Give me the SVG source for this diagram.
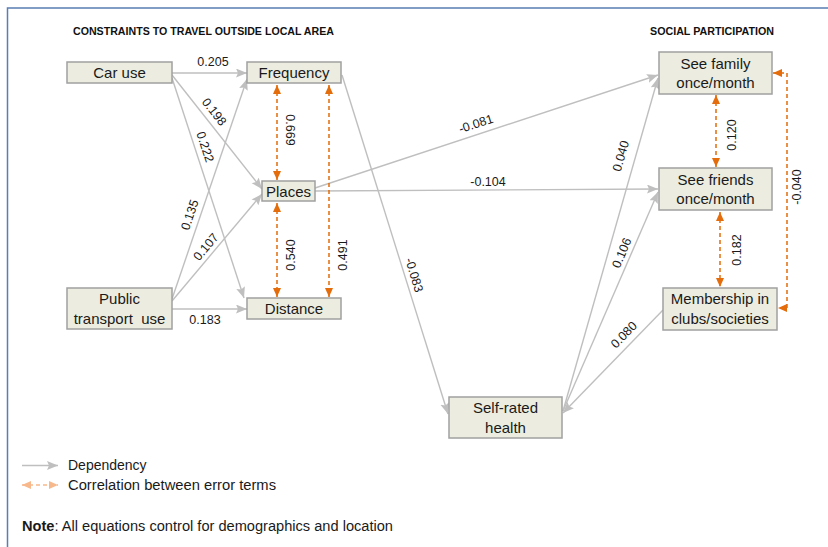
<svg xmlns="http://www.w3.org/2000/svg" width="828" height="547" viewBox="0 0 828 547">
<style>
  .box { fill: #ecede0; stroke: #a0a0a0; stroke-width: 1.5; }
  .nt { font-family: "Liberation Sans", Arial, sans-serif; font-size: 15px; fill: #1a1a1a; text-anchor: middle; }
  .lbl { font-family: "Liberation Sans", Arial, sans-serif; font-size: 12.5px; fill: #1a1a1a; text-anchor: middle; }
  .title { font-family: "Liberation Sans", Arial, sans-serif; font-size: 10.5px; font-weight: bold; fill: #111; }
  .dep { fill: none; stroke: #bfbfbf; stroke-width: 1.4; marker-end: url(#ga); }
  .cor { fill: none; stroke: #e46c0a; stroke-width: 1.5; stroke-dasharray: 4 3; marker-start: url(#oa); marker-end: url(#oa); }
  .leg { font-family: "Liberation Sans", Arial, sans-serif; font-size: 14px; fill: #1a1a1a; }
</style>
<defs>
  <marker id="ga" markerUnits="userSpaceOnUse" markerWidth="12" markerHeight="10" refX="11" refY="4.5" orient="auto">
    <path d="M0,0 L11,4.5 L0,9 L2,4.5 z" fill="#bfbfbf"/>
  </marker>
  <marker id="oa" markerUnits="userSpaceOnUse" markerWidth="10" markerHeight="9" refX="9" refY="4" orient="auto-start-reverse">
    <path d="M0,0 L9,4 L0,8 z" fill="#e46c0a"/>
  </marker>
  <marker id="la" markerUnits="userSpaceOnUse" markerWidth="10" markerHeight="9" refX="9" refY="4" orient="auto-start-reverse">
    <path d="M0,0 L9,4 L0,8 z" fill="#f7b98c"/>
  </marker>
</defs>
<rect x="0" y="0" width="828" height="547" fill="#ffffff"/>
<rect x="7.5" y="8" width="840" height="560" fill="none" stroke="#5a7db3" stroke-width="1.5"/>

<text class="title" x="73" y="35" textLength="261" lengthAdjust="spacingAndGlyphs">CONSTRAINTS TO TRAVEL OUTSIDE LOCAL AREA</text>
<text class="title" x="650" y="35" textLength="124" lengthAdjust="spacingAndGlyphs">SOCIAL PARTICIPATION</text>

<g id="connectors">
  <line class="dep" x1="172" y1="73" x2="247" y2="73"/>
  <line class="dep" x1="172" y1="75" x2="262" y2="189"/>
  <line class="dep" x1="172" y1="78" x2="244" y2="298"/>
  <line class="dep" x1="172" y1="299" x2="247" y2="79"/>
  <line class="dep" x1="172" y1="301" x2="262" y2="194"/>
  <line class="dep" x1="172" y1="309" x2="247" y2="309"/>
  <line class="dep" x1="342" y1="75" x2="448" y2="414"/>
  <line class="dep" x1="315" y1="188" x2="658" y2="75"/>
  <line class="dep" x1="315" y1="191" x2="658" y2="189"/>
  <line class="dep" x1="563" y1="411" x2="658" y2="78"/>
  <line class="dep" x1="563" y1="411" x2="658" y2="192"/>
  <line class="dep" x1="663" y1="310" x2="563" y2="413"/>

  <line class="cor" x1="277" y1="85" x2="277" y2="180"/>
  <line class="cor" x1="277" y1="203" x2="277" y2="297"/>
  <line class="cor" x1="329" y1="85" x2="329" y2="297"/>
  <line class="cor" x1="716" y1="95" x2="716" y2="167"/>
  <line class="cor" x1="720" y1="212" x2="720" y2="287"/>
  <polyline class="cor" points="773,73 787,73 787,308 778,308"/>

  <text class="lbl" x="213" y="66">0.205</text>
  <text class="lbl" transform="translate(214,112) rotate(52)" y="4">0.198</text>
  <text class="lbl" transform="translate(205,147) rotate(72)" y="4">0.222</text>
  <text class="lbl" transform="translate(190,215) rotate(-71)" y="4">0.135</text>
  <text class="lbl" transform="translate(206,247) rotate(-50)" y="4">0.107</text>
  <text class="lbl" x="205" y="324">0.183</text>
  <text class="lbl" transform="translate(414,275) rotate(73)" y="4">-0.083</text>
  <text class="lbl" transform="translate(476,124) rotate(-18)" y="4">-0.081</text>
  <text class="lbl" x="488" y="186">-0.104</text>
  <text class="lbl" transform="translate(621,156) rotate(-74)" y="4">0.040</text>
  <text class="lbl" transform="translate(622,253) rotate(-67)" y="4">0.106</text>
  <text class="lbl" transform="translate(624,335) rotate(-46)" y="4">0.080</text>
  <text class="lbl" transform="translate(290,130) rotate(90)" y="4">0.669</text>
  <text class="lbl" transform="translate(291,255) rotate(-90)" y="4">0.540</text>
  <text class="lbl" transform="translate(343,255) rotate(-90)" y="4">0.491</text>
  <text class="lbl" transform="translate(732,135) rotate(-90)" y="4">0.120</text>
  <text class="lbl" transform="translate(737,250) rotate(-90)" y="4">0.182</text>
  <text class="lbl" transform="translate(797,187) rotate(-90)" y="4">-0.040</text>
</g>

<g id="car-use">
  <rect class="box" x="67" y="62" width="105" height="21"/>
  <text class="nt" x="119.5" y="78">Car use</text>
</g>
<g id="public-transport-use">
  <rect class="box" x="67" y="288" width="105" height="41"/>
  <text class="nt" x="119.5" y="304">Public</text>
  <text class="nt" x="119.5" y="324" xml:space="preserve">transport  use</text>
</g>
<g id="frequency">
  <rect class="box" x="247" y="62" width="94" height="21"/>
  <text class="nt" x="294" y="78">Frequency</text>
</g>
<g id="places">
  <rect class="box" x="262" y="181" width="53" height="20"/>
  <text class="nt" x="288.5" y="197">Places</text>
</g>
<g id="distance">
  <rect class="box" x="247" y="298" width="94" height="21"/>
  <text class="nt" x="294" y="314">Distance</text>
</g>
<g id="see-family">
  <rect class="box" x="659" y="52" width="113" height="42"/>
  <text class="nt" x="715.5" y="69">See family</text>
  <text class="nt" x="715.5" y="88">once/month</text>
</g>
<g id="see-friends">
  <rect class="box" x="659" y="168" width="113" height="42"/>
  <text class="nt" x="715.5" y="185">See friends</text>
  <text class="nt" x="715.5" y="204">once/month</text>
</g>
<g id="membership">
  <rect class="box" x="663" y="288" width="114" height="42"/>
  <text class="nt" x="720" y="304">Membership in</text>
  <text class="nt" x="720" y="324">clubs/societies</text>
</g>
<g id="self-rated-health">
  <rect class="box" x="449" y="397" width="113" height="41"/>
  <text class="nt" x="505.5" y="413">Self-rated</text>
  <text class="nt" x="505.5" y="433">health</text>
</g>

<g id="legend">
  <line x1="22" y1="465.5" x2="58" y2="465.5" stroke="#bfbfbf" stroke-width="1.4" marker-end="url(#ga)"/>
  <text class="leg" x="68" y="470">Dependency</text>
  <line x1="22" y1="485" x2="58" y2="485" stroke="#f7b98c" stroke-width="1.5" stroke-dasharray="4 3" marker-start="url(#la)" marker-end="url(#la)"/>
  <text class="leg" x="68" y="490" textLength="208" lengthAdjust="spacingAndGlyphs">Correlation between error terms</text>
  <text class="leg" x="22" y="531" textLength="371" lengthAdjust="spacingAndGlyphs"><tspan font-weight="bold">Note</tspan>: All equations control for demographics and location</text>
</g>
</svg>
